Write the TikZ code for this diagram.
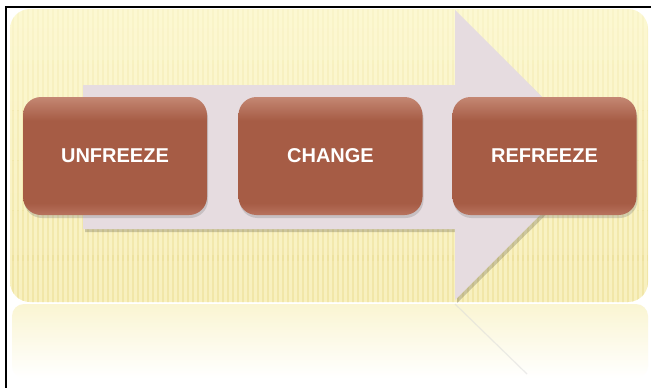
\documentclass[tikz,border=0pt]{standalone}
\usepackage{fontspec}
\setmainfont{Liberation Sans}
\usetikzlibrary{shadows}
\definecolor{bgtop}{HTML}{FCF8D2}
\definecolor{bgbot}{HTML}{F8F0BE}
\definecolor{stripe}{HTML}{EDE09A}
\definecolor{reflY}{HTML}{FAF5D2}
\definecolor{arrowcol}{HTML}{E6DCE0}
\definecolor{boxtop}{HTML}{C48773}
\definecolor{boxmid}{HTML}{A65C45}
\definecolor{boxbot}{HTML}{B8735E}
\pgfdeclareverticalshading{stageshade}{100bp}{color(0bp)=(boxbot); color(25bp)=(boxbot); color(30bp)=(boxmid); color(65bp)=(boxmid); color(75bp)=(boxtop); color(100bp)=(boxtop)}
\tikzset{
  stagebox/.style={rounded corners=18pt, minimum width=184pt, minimum height=118pt,
    shading=stageshade, draw=none,
    text=white, font=\bfseries\fontsize{20}{24}\selectfont,
    drop shadow={shadow xshift=1pt, shadow yshift=-3pt, opacity=0.3}},
  stripeline/.style={draw=stripe, line width=1.6pt}
}
\begin{document}
\begin{tikzpicture}[x=1pt,y=-1pt]
\useasboundingbox (0,0) rectangle (651,388);
\fill[white] (0,0) rectangle (651,388);
% reflection
\shade[top color=reflY, bottom color=white, rounded corners=12pt] (12,304) rectangle (648,378);
\draw[gray!30, line width=1.2pt, opacity=0.5] (455,304) -- (527,374);
% background panel
\shade[rounded corners=20pt, top color=bgtop, bottom color=bgbot] (10,9) rectangle (648,302);
\begin{scope}
\clip[rounded corners=20pt] (10,9) rectangle (648,302);
\foreach \y/\o in {9/0.15,60/0.25,110/0.35,160/0.45,210/0.55,255/0.62}
  \foreach \x in {13,18,...,648} \draw[stripeline, opacity=\o] (\x,\y) -- (\x,\y+51);
\end{scope}
% arrow shadow and arrow
\fill[black, opacity=0.18] (85,88) -- (457,88) -- (457,13) -- (603,158) -- (457,303) -- (457,232) -- (85,232) -- cycle;
\fill[arrowcol] (83,85) -- (455,85) -- (455,10) -- (600,155) -- (455,300) -- (455,229) -- (83,229) -- cycle;
% stage boxes
\node[stagebox] (u) at (115,156) {UNFREEZE};
\node[stagebox] (c) at (330.5,156) {CHANGE};
\node[stagebox] (r) at (544.5,156) {REFREEZE};
% frame
\draw[line width=2pt] (6,388) -- (6,7) -- (651,7);
\end{tikzpicture}
\end{document}
